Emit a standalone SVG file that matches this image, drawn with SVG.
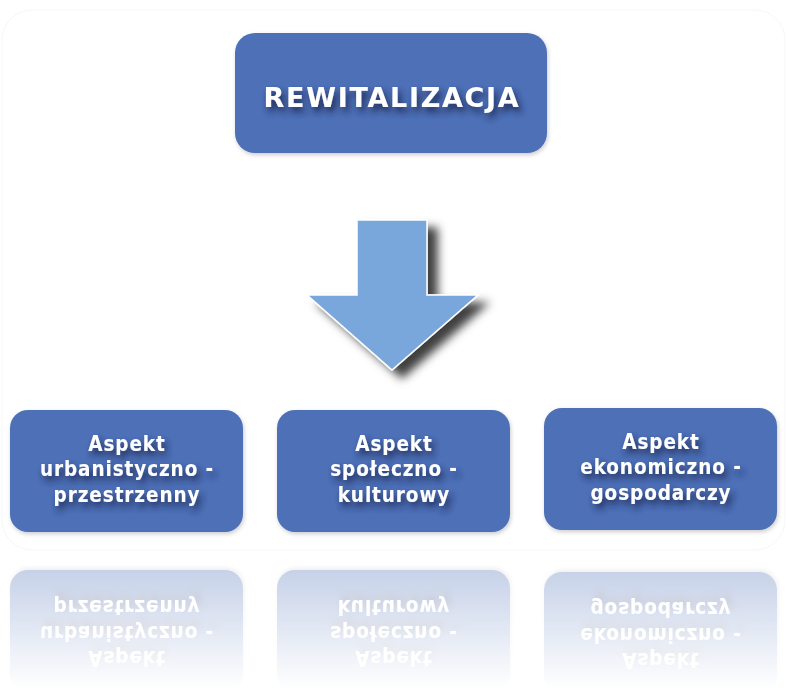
<svg xmlns="http://www.w3.org/2000/svg" xmlns:xlink="http://www.w3.org/1999/xlink" width="787" height="689" viewBox="0 0 787 689">
<style>
.box{fill:#4d70b7;}
.t{fill:#ffffff;font-family:"DejaVu Sans","Liberation Sans",sans-serif;font-weight:bold;text-anchor:middle;}
.big{font-size:27px;letter-spacing:1.7px;}
.sm{font-size:20.5px;letter-spacing:0.9px;font-family:"DejaVu Sans Condensed","DejaVu Sans",sans-serif;}
</style>
<defs>
<filter id="ts" x="-20%" y="-50%" width="140%" height="220%">
<feGaussianBlur in="SourceAlpha" stdDeviation="3.5"/>
<feOffset dx="3" dy="5" result="b"/>
<feFlood flood-color="#1a2550" flood-opacity="0.95"/>
<feComposite in2="b" operator="in"/>
<feMerge><feMergeNode/><feMergeNode in="SourceGraphic"/></feMerge>
</filter>
<filter id="bs" x="-10%" y="-10%" width="125%" height="130%">
<feGaussianBlur in="SourceAlpha" stdDeviation="2"/>
<feOffset dx="1" dy="2" result="b"/>
<feFlood flood-color="#000" flood-opacity="0.2"/>
<feComposite in2="b" operator="in"/>
<feMerge><feMergeNode/><feMergeNode in="SourceGraphic"/></feMerge>
</filter>
<filter id="as" x="-20%" y="-20%" width="150%" height="150%">
<feGaussianBlur in="SourceAlpha" stdDeviation="5"/>
<feOffset dx="10" dy="8" result="b"/>
<feFlood flood-color="#000" flood-opacity="0.75"/>
<feComposite in2="b" operator="in"/>
<feMerge><feMergeNode/><feMergeNode in="SourceGraphic"/></feMerge>
</filter>
<linearGradient id="fade" x1="0" y1="570" x2="0" y2="689" gradientUnits="userSpaceOnUse">
<stop offset="0" stop-color="#fff" stop-opacity="0.32"/>
<stop offset="1" stop-color="#fff" stop-opacity="0"/>
</linearGradient>
<mask id="rm" maskUnits="userSpaceOnUse" x="0" y="550" width="787" height="139">
<rect x="0" y="550" width="787" height="139" fill="url(#fade)"/>
</mask>
</defs>
<rect x="2" y="10" width="783" height="540" rx="30" fill="none" stroke="#f7f7f7" stroke-width="1"/>
<g id="connectors">
<path id="arrow" d="M357,220 H427 V295 H478 L392,370 L307,295 H357 Z" fill="#7aa7db" stroke="#ffffff" stroke-width="1.5" filter="url(#as)"/>
</g>
<g id="n-rewitalizacja">
<rect class="box" x="235" y="33" width="312" height="120" rx="20" filter="url(#bs)"/>
<text class="t big" x="392" y="107" filter="url(#ts)">REWITALIZACJA</text>
</g>
<g id="nodes">
<g id="n-urban">
<rect class="box" x="10" y="410" width="233" height="122" rx="18" filter="url(#bs)"/>
<g filter="url(#ts)">
<text class="t sm" x="127" y="451">Aspekt</text>
<text class="t sm" x="127" y="476">urbanistyczno -</text>
<text class="t sm" x="127" y="502">przestrzenny</text>
</g>
</g>
<g id="n-spol">
<rect class="box" x="277" y="410" width="233" height="122" rx="18" filter="url(#bs)"/>
<g filter="url(#ts)">
<text class="t sm" x="394" y="451">Aspekt</text>
<text class="t sm" x="394" y="476">społeczno -</text>
<text class="t sm" x="394" y="502">kulturowy</text>
</g>
</g>
<g id="n-ekon">
<rect class="box" x="544" y="408" width="233" height="122" rx="18" filter="url(#bs)"/>
<g filter="url(#ts)">
<text class="t sm" x="661" y="449">Aspekt</text>
<text class="t sm" x="661" y="474">ekonomiczno -</text>
<text class="t sm" x="661" y="500">gospodarczy</text>
</g>
</g>
</g>
<g id="reflection" mask="url(#rm)">
<use xlink:href="#nodes" transform="translate(0,1102) scale(1,-1)"/>
</g>
</svg>
